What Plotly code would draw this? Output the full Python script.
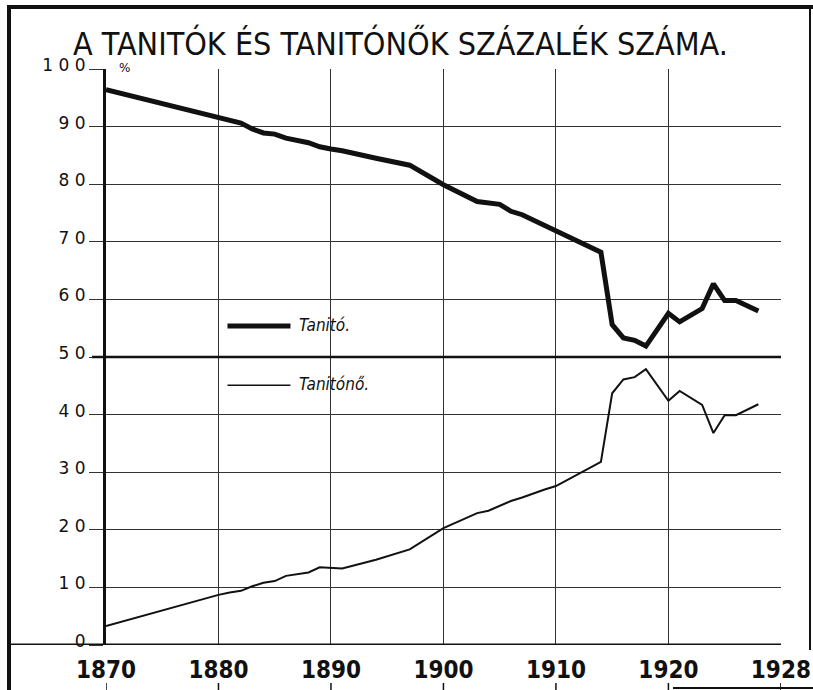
import plotly.graph_objects as go

# ---- data ----
years_tanito = [1870, 1880, 1882, 1883, 1884, 1885, 1886, 1888, 1889, 1890, 1891, 1894,
                1897, 1900, 1903, 1905, 1906, 1907, 1910, 1914, 1915, 1916, 1917, 1918,
                1920, 1921, 1923, 1924, 1925, 1926, 1928]
tanito = [96.4, 91.5, 90.6, 89.6, 88.9, 88.7, 88.0, 87.2, 86.5, 86.1, 85.8, 84.5,
          83.3, 79.9, 77.0, 76.5, 75.3, 74.7, 72.0, 68.2, 55.6, 53.3, 52.9, 51.9,
          57.6, 56.1, 58.4, 62.7, 59.8, 59.8, 58.0]

years_tanitono = [1870, 1880, 1881, 1882, 1883, 1884, 1885, 1886, 1888, 1889, 1891, 1894,
                  1897, 1900, 1903, 1904, 1906, 1907, 1909, 1910, 1914, 1915, 1916, 1917,
                  1918, 1920, 1921, 1923, 1924, 1925, 1926, 1928]
tanitono = [3.3, 8.7, 9.1, 9.4, 10.2, 10.8, 11.1, 12.0, 12.6, 13.5, 13.3, 14.8,
            16.6, 20.3, 22.9, 23.3, 25.0, 25.6, 27.0, 27.6, 31.8, 43.7, 46.1, 46.5,
            47.9, 42.4, 44.1, 41.7, 36.8, 39.9, 39.9, 41.8]

x_ticks = [1870, 1880, 1890, 1900, 1910, 1920, 1930]
x_ticktext = ["1870", "1880", "1890", "1900", "1910", "1920", "1928"]
y_ticks = [0, 10, 20, 30, 40, 50, 60, 70, 80, 90, 100]
y_ticktext = ["0", "1 0", "2 0", "3 0", "4 0", "5 0", "6 0", "7 0", "8 0", "9 0", "1 0 0"]

title_text = "A TANITÓK ÉS TANITÓNŐK SZÁZALÉK SZÁMA."
name_tanito = "Tanitó."
name_tanitono = "Tanitónő."

COND = "DejaVu Sans Condensed, Liberation Sans, sans-serif"
INK = "#111111"

fig = go.Figure()
fig.add_trace(go.Scatter(x=years_tanito, y=tanito, mode="lines", name=name_tanito,
                         line=dict(color=INK, width=5)))
fig.add_trace(go.Scatter(x=years_tanitono, y=tanitono, mode="lines", name=name_tanitono,
                         line=dict(color=INK, width=2)))

W, H = 813, 690
L, R, T, B = 106, 32, 69, 45
pw, ph = W - L - R, H - T - B


def px_x(p):
    return (p - L) / pw


def px_y(p):
    return (H - B - p) / ph


shapes = []
# heavy 50 line and base line
shapes.append(dict(type="line", xref="paper", yref="y", x0=px_x(92), x1=1, y0=50, y1=50,
                   line=dict(color=INK, width=2.5)))
shapes.append(dict(type="line", xref="paper", yref="y", x0=px_x(9), x1=1, y0=0, y1=0,
                   line=dict(color=INK, width=3)))
# outer frame
shapes.append(dict(type="line", xref="paper", yref="paper", x0=px_x(9), x1=px_x(9),
                   y0=px_y(690), y1=px_y(5), line=dict(color=INK, width=4)))
shapes.append(dict(type="line", xref="paper", yref="paper", x0=px_x(7), x1=px_x(813),
                   y0=px_y(7), y1=px_y(7), line=dict(color=INK, width=4)))
shapes.append(dict(type="line", xref="paper", yref="paper", x0=px_x(810), x1=px_x(810),
                   y0=px_y(650), y1=px_y(7), line=dict(color=INK, width=2)))
shapes.append(dict(type="line", xref="paper", yref="paper", x0=px_x(673), x1=px_x(813),
                   y0=px_y(688), y1=px_y(688), line=dict(color=INK, width=2)))
# small marks under the year labels
for t in x_ticks:
    shapes.append(dict(type="line", xref="x", yref="paper", x0=t, x1=t,
                       y0=px_y(683), y1=px_y(692), line=dict(color=INK, width=1.5)))
# legend keys
shapes.append(dict(type="line", xref="x", yref="y", x0=1880.8, x1=1886.4, y0=55.4, y1=55.4,
                   line=dict(color=INK, width=5)))
shapes.append(dict(type="line", xref="x", yref="y", x0=1880.8, x1=1886.4, y0=45.1, y1=45.1,
                   line=dict(color=INK, width=1.5)))

annotations = [
    dict(text=title_text, xref="paper", yref="paper", x=px_x(400), y=px_y(43),
         showarrow=False, xanchor="center", yanchor="middle",
         font=dict(family=COND, size=32, color=INK)),
    dict(text="%", xref="paper", yref="paper", x=px_x(124), y=px_y(68),
         showarrow=False, xanchor="center", yanchor="middle",
         font=dict(family="DejaVu Sans", size=12, color=INK)),
    dict(text="<i>" + name_tanito + "</i>", xref="x", yref="y", x=1887.0, y=55.6,
         showarrow=False, xanchor="left", yanchor="middle",
         font=dict(family=COND, size=17, color=INK)),
    dict(text="<i>" + name_tanitono + "</i>", xref="x", yref="y", x=1887.0, y=45.3,
         showarrow=False, xanchor="left", yanchor="middle",
         font=dict(family=COND, size=17, color=INK)),
]

fig.update_layout(
    width=W, height=H,
    margin=dict(l=L, r=R, t=T, b=B, pad=0, autoexpand=False),
    paper_bgcolor="white", plot_bgcolor="white",
    showlegend=False,
    shapes=shapes, annotations=annotations,
    xaxis=dict(range=[1870, 1930.01], tickmode="array", tickvals=x_ticks, ticktext=x_ticktext,
               showgrid=True, gridcolor="#333333", gridwidth=1, zeroline=False,
               showline=False, ticks="", ticklabelstandoff=8, automargin=False,
               ticklabeloverflow="allow",
               tickfont=dict(family=COND, size=24, color=INK, weight="bold")),
    yaxis=dict(range=[0, 100], tickmode="array", tickvals=y_ticks, ticktext=y_ticktext,
               showgrid=True, gridcolor="#333333", gridwidth=1, zeroline=False,
               showline=True, linewidth=3, linecolor=INK, automargin=False,
               ticks="outside", ticklen=14, tickcolor="#333333", tickwidth=1,
               ticklabelstandoff=0, ticklabelshift=-4,
               tickfont=dict(family="DejaVu Sans", size=17, color=INK)),
)

fig.write_html(
    "out.html",
    config={"displayModeBar": False},
    post_script="document.body.style.margin='0';document.body.style.overflow='hidden';",
)
